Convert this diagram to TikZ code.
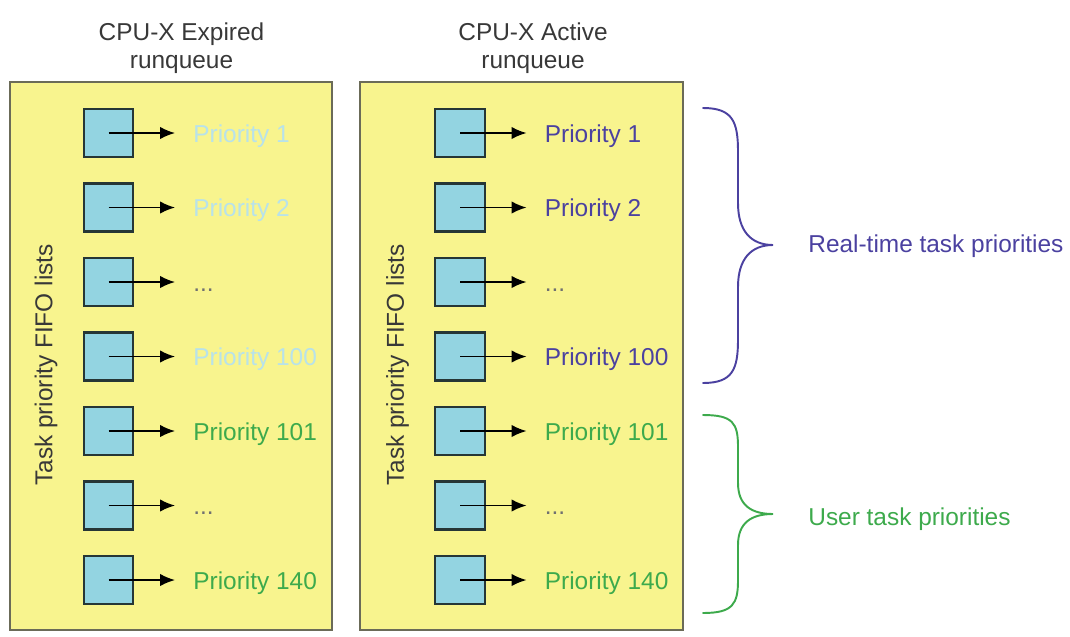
\documentclass[tikz,border=0pt]{standalone}
\usepackage{fontspec}
\setmainfont{Liberation Sans}
\usetikzlibrary{arrows.meta}

\definecolor{gelb}{HTML}{F8F48E}
\definecolor{rahmen}{HTML}{6B6B58}
\definecolor{kasten}{HTML}{93D4E1}
\definecolor{rand}{HTML}{263636}
\definecolor{blass}{HTML}{B8E2EA}
\definecolor{gruen}{HTML}{3DAA4C}
\definecolor{lila}{HTML}{4B41A0}
\definecolor{grau}{HTML}{707070}
\definecolor{titel}{HTML}{383838}

\newcommand{\pkt}{...}

\begin{document}
\begin{tikzpicture}[x=0.02cm,y=-0.02cm,
  font=\fontsize{13.9}{16.4}\selectfont,
  panel/.style={draw=rahmen,fill=gelb,line width=1.1pt},
  fifo/.style={draw=rand,fill=kasten,line width=1.4pt,minimum width=0.99cm,minimum height=0.96cm,inner sep=0},
  lab/.style={anchor=base west,inner sep=0},
  pfeil/.style={-{Latex[length=0.3cm,width=0.25cm]},line width=1pt,shorten >=0.36cm},
  klammer/.style={line width=1.1pt,line cap=round,line join=miter}]
  \useasboundingbox (0,0) rectangle (1070,636);

  % Parameter
  \def\dy{74.5}   % Zeilenabstand
  \def\dx{351.5}  % Abstand der Warteschlangen

  % Titel
  \node[align=center,anchor=north,inner sep=0,text=titel] (titelE) at (181.5,22) {CPU-X Expired\\runqueue};
  \node[align=center,anchor=north,inner sep=0,text=titel] (titelA) at (533,22) {CPU-X Active\\runqueue};

  % Warteschlangen
  \draw[panel] (10,82) rectangle (332,630);
  \draw[panel] (360,82) rectangle (683,630);
  \node[rotate=90,text=titel] (fifoE) at (46,365) {Task priority FIFO lists};
  \node[rotate=90,text=titel] (fifoA) at (397.5,365) {Task priority FIFO lists};

  % Prioritaetslisten
  \foreach \i/\txt/\fe/\fa in {1/Priority 1/blass/lila, 2/Priority 2/blass/lila,
      3/\pkt/grau/grau, 4/Priority 100/blass/lila, 5/Priority 101/gruen/gruen,
      6/\pkt/grau/grau, 7/Priority 140/gruen/gruen}{
    \pgfmathsetmacro{\ypos}{133+\dy*(\i-1)}
    \node[fifo] (sqE\i) at (108.5,\ypos) {};
    \node[lab,text=\fe] (labE\i) at (193,\ypos+9) {\txt};
    \draw[pfeil] (sqE\i.center) -- (sqE\i.center -| labE\i.west);
    \node[fifo] (sqA\i) at (108.5+\dx,\ypos) {};
    \node[lab,text=\fa] (labA\i) at (193+\dx,\ypos+9) {\txt};
    \draw[pfeil] (sqA\i.center) -- (sqA\i.center -| labA\i.west);
  }

  % Klammern
  \draw[klammer,lila] (703,108) .. controls +(30,0) and +(0,-30) .. (738,152)
    -- (738,203) .. controls +(0,28) and +(-22,0) .. (773,245)
    .. controls +(-22,0) and +(0,-28) .. (738,287)
    -- (738,339) .. controls +(0,30) and +(30,0) .. (703,383);
  \node[lab,text=lila] (rtText) at (808,252) {Real-time task priorities};

  \draw[klammer,gruen] (703,415) .. controls +(30,0) and +(0,-24) .. (738,447)
    -- (738,483) .. controls +(0,22) and +(-22,0) .. (773,514)
    .. controls +(-22,0) and +(0,-22) .. (738,545)
    -- (738,580) .. controls +(0,24) and +(30,0) .. (703,613);
  \node[lab,text=gruen] (usText) at (808,525) {User task priorities};

\end{tikzpicture}
\end{document}
